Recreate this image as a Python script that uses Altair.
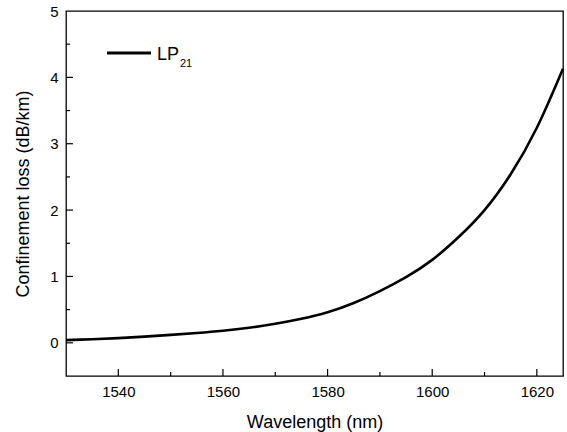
import altair as alt
import pandas as pd

# Curve data
wavelength = [1530, 1535, 1540, 1545, 1550, 1555, 1560, 1565, 1570, 1575,
              1580, 1585, 1590, 1595, 1600, 1605, 1610, 1615, 1620, 1625]
loss = [0.04, 0.054, 0.07, 0.093, 0.119, 0.148, 0.182, 0.227, 0.287, 0.362,
        0.46, 0.60, 0.78, 0.99, 1.25, 1.59, 2.00, 2.54, 3.24, 4.13]

x_major = [1540, 1560, 1580, 1600, 1620]
x_minor = [1550, 1570, 1590, 1610]
y_major = [0, 1, 2, 3, 4]
y_minor = [0.5, 1.5, 2.5, 3.5, 4.5]
y_labels = [0, 1, 2, 3, 4, 5]

FONT = "Liberation Sans"
W, H = 497, 365

df = pd.DataFrame({"wl": wavelength, "loss": loss})

xs = alt.Scale(domain=[1530, 1625], nice=False, zero=False)
ys = alt.Scale(domain=[-0.5, 5], nice=False, zero=False)

x_axis = alt.Axis(values=x_major, title="Wavelength (nm)", tickSize=0, domain=False,
                  grid=False, labelFont=FONT, labelFontSize=15, labelColor="black",
                  labelPadding=8, titleFont=FONT, titleFontSize=18, titleFontWeight="normal",
                  titleColor="black", titlePadding=14, format="d")
y_axis = alt.Axis(values=y_labels, title="Confinement loss (dB/km)", tickSize=0,
                  domain=False, grid=False, labelFont=FONT, labelFontSize=15,
                  labelColor="black", labelPadding=8, titleFont=FONT, titleFontSize=18,
                  titleFontWeight="normal", titleColor="black", titlePadding=17, format="d")

curve = alt.Chart(df).mark_line(color="black", strokeWidth=2.6, interpolate="natural").encode(
    x=alt.X("wl:Q", scale=xs, axis=x_axis),
    y=alt.Y("loss:Q", scale=ys, axis=y_axis),
)

def xticks(vals, length):
    return alt.Chart(pd.DataFrame({"v": vals})).mark_rule(color="black", strokeWidth=1.2).encode(
        x=alt.X("v:Q", scale=xs, axis=x_axis),
        y=alt.value(H),
        y2=alt.value(H - length),
    )

def yticks(vals, length):
    return alt.Chart(pd.DataFrame({"v": vals})).mark_rule(color="black", strokeWidth=1.2).encode(
        y=alt.Y("v:Q", scale=ys, axis=y_axis),
        x=alt.value(0),
        x2=alt.value(length),
    )

legend_line = alt.Chart(pd.DataFrame({"a": [0]})).mark_rule(color="black", strokeWidth=3).encode(
    x=alt.value(41), x2=alt.value(85), y=alt.value(42)
)
legend_text = alt.Chart(pd.DataFrame({"t": ["LP"]})).mark_text(
    font=FONT, fontSize=18, color="black", align="left", baseline="alphabetic"
).encode(x=alt.value(91), y=alt.value(49), text="t:N")
legend_sub = alt.Chart(pd.DataFrame({"t": ["21"]})).mark_text(
    font=FONT, fontSize=11, color="black", align="left", baseline="alphabetic"
).encode(x=alt.value(114), y=alt.value(56), text="t:N")

chart = alt.layer(
    curve,
    xticks(x_major, 7), xticks(x_minor, 4),
    yticks(y_major, 7), yticks(y_minor, 4),
    legend_line, legend_text, legend_sub,
).properties(
    width=W, height=H,
    autosize=alt.AutoSizeParams(type="none"),
    padding={"left": 66, "top": 11, "right": 4, "bottom": 56},
    background="white",
).configure_view(stroke="black", strokeWidth=1.3)

chart.save("out.html", embed_options={"renderer": "svg", "actions": False})
